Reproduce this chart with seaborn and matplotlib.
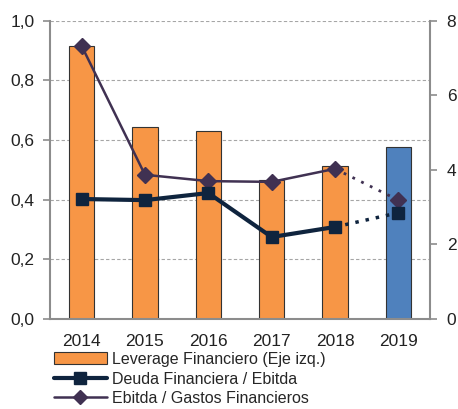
import matplotlib
matplotlib.use('Agg')
import matplotlib.pyplot as plt
import seaborn as sns
import pandas as pd
import numpy as np
from matplotlib.patches import Patch
from matplotlib.lines import Line2D
from matplotlib.ticker import FuncFormatter

sns.set_style('white')
plt.rcParams['font.family'] = ['Liberation Sans', 'DejaVu Sans']

years = ['2014', '2015', '2016', '2017', '2018', '2019']
leverage = [0.916, 0.644, 0.631, 0.466, 0.513, 0.577]
deuda_ebitda = [3.22, 3.19, 3.38, 2.20, 2.47, 2.85]
ebitda_gastos = [7.33, 3.87, 3.70, 3.68, 4.03, 3.19]

ORANGE = '#F79646'
BLUE = '#4F81BD'
NAVY = '#0F243E'
PURPLE = '#403152'
GRAY = '#8C8C8C'

df = pd.DataFrame({'year': years, 'leverage': leverage})

fig = plt.figure(figsize=(4.58, 4.09), dpi=100)
ax = fig.add_axes([0.109, 0.22, 0.83, 0.729])

bar_colors = [ORANGE] * 5 + [BLUE]
sns.barplot(data=df, x='year', y='leverage', hue='year', palette=bar_colors,
            legend=False, width=0.4, edgecolor='#333333', linewidth=0.8,
            saturation=1, ax=ax, zorder=2)
ax.set_ylim(0, 1.0)
ax.set_xlim(-0.5, 5.5)
ax.set_yticks(np.arange(0, 1.01, 0.2))
ax.yaxis.set_major_formatter(FuncFormatter(lambda v, p: f'{v:.1f}'.replace('.', ',')))
ax.set_xlabel('')
ax.set_ylabel('')
ax.grid(axis='y', linestyle=(0, (3, 2)), color='#A6A6A6', linewidth=0.8, zorder=0)
ax.set_axisbelow(True)

# category boundary ticks on x axis
ax.set_xticks(np.arange(-0.5, 6.0, 1.0), minor=True)
ax.tick_params(axis='x', which='major', length=0, labelsize=12.5, pad=11, colors='#222222')
ax.tick_params(axis='x', which='minor', length=5, color=GRAY, width=1.2, direction='out')
ax.tick_params(axis='y', length=5, color=GRAY, width=1.2, direction='out', labelsize=12.5,
               colors='#222222', pad=6)
for s in ['top', 'right']:
    ax.spines[s].set_visible(False)
for s in ['left', 'bottom']:
    ax.spines[s].set_color(GRAY)
    ax.spines[s].set_linewidth(1.5)

ax2 = ax.twinx()
ax2.set_ylim(0, 8)
ax2.set_yticks([0, 2, 4, 6, 8])
ax2.tick_params(axis='y', length=5, color=GRAY, width=1.2, direction='out', labelsize=12.5,
                colors='#222222', pad=7)
for s in ['top', 'left', 'bottom']:
    ax2.spines[s].set_visible(False)
ax2.spines['right'].set_color(GRAY)
ax2.spines['right'].set_linewidth(1.5)

x = np.arange(len(years))
# solid part 2014-2018, dotted 2018-2019
ax2.plot(x[:5], ebitda_gastos[:5], color=PURPLE, linewidth=1.8, zorder=3)
ax2.plot(x[4:], ebitda_gastos[4:], color=PURPLE, linewidth=2, linestyle=(0, (1, 2.5)), zorder=3)
ax2.plot(x, ebitda_gastos, linestyle='none', marker='D', markersize=8, color=PURPLE, zorder=4)

ax2.plot(x[:5], deuda_ebitda[:5], color=NAVY, linewidth=3, zorder=5)
ax2.plot(x[4:], deuda_ebitda[4:], color=NAVY, linewidth=2.5, linestyle=(0, (1, 2)), zorder=5)
ax2.plot(x, deuda_ebitda, linestyle='none', marker='s', markersize=9, color=NAVY, zorder=6)

handles = [
    Patch(facecolor=ORANGE, edgecolor='#333333', linewidth=0.8),
    Line2D([0], [0], color=NAVY, linewidth=3, marker='s', markersize=9),
    Line2D([0], [0], color=PURPLE, linewidth=1.8, marker='D', markersize=7),
]
labels = ['Leverage Financiero (Eje izq.)', 'Deuda Financiera / Ebitda',
          'Ebitda / Gastos Financieros']
fig.legend(handles, labels, loc='upper left', bbox_to_anchor=(0.118, 0.14),
           frameon=False, fontsize=11.5, handlelength=3.3, handleheight=0.8,
           handletextpad=0.3, labelspacing=0.3, borderaxespad=0, borderpad=0)

fig.savefig('out.png', dpi=100)
